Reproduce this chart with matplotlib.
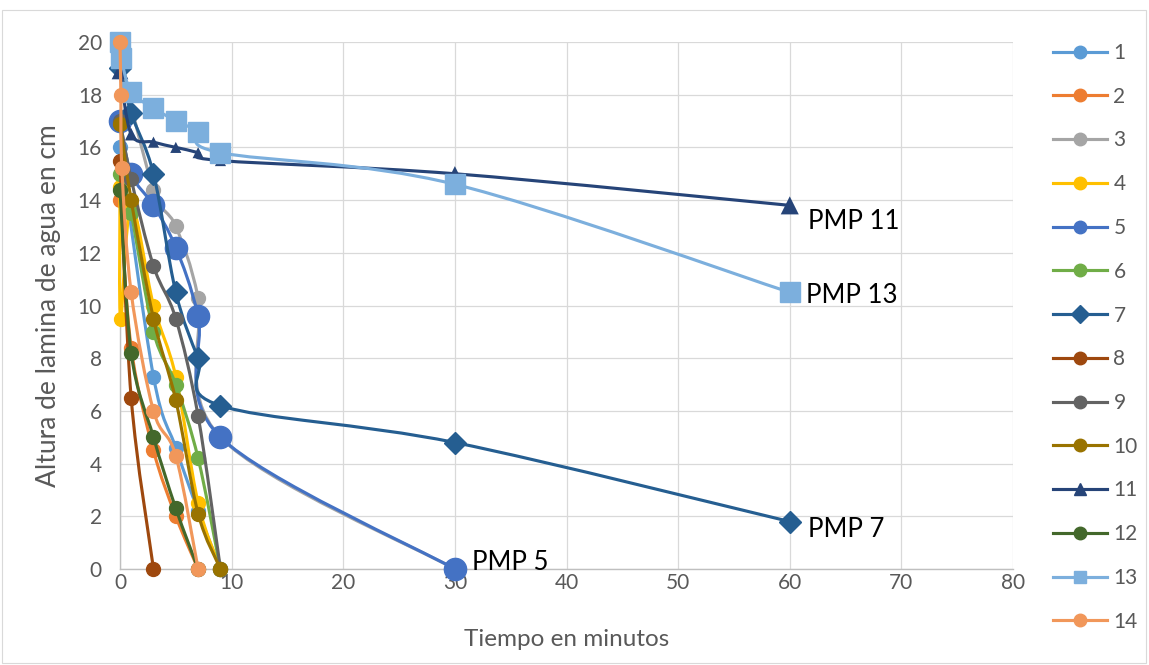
import numpy as np
import matplotlib
matplotlib.use("Agg")
import matplotlib.pyplot as plt
from matplotlib.path import Path
from matplotlib.patches import PathPatch, Rectangle
from matplotlib.lines import Line2D

plt.rcParams['font.family'] = ['Lato', 'DejaVu Sans']

# ---- data (time in minutes, water height in cm) ----
series_names = ["1", "2", "3", "4", "5", "6", "7", "8", "9", "10", "11", "12", "13", "14"]

x1 = [0, 3, 5, 7, 9];                 y1 = [16.0, 7.3, 4.6, 2.2, 0]
x2 = [0, 1, 3, 5, 7];                 y2 = [14.0, 8.4, 4.5, 2.0, 0]
x3 = [0, 3, 5, 7, 9, 30];             y3 = [19.3, 14.4, 13.0, 10.3, 5.0, 0]
x4 = [0, 0.05, 1, 3, 5, 7, 9];        y4 = [14.5, 9.5, 13.8, 10.0, 7.3, 2.5, 0]
x5 = [0, 1, 3, 5, 7, 9, 30];          y5 = [17.0, 15.0, 13.8, 12.2, 9.6, 5.0, 0]
x6 = [0, 1, 3, 5, 7, 9];              y6 = [15.0, 13.5, 9.0, 7.0, 4.2, 0]
x7 = [0, 1, 3, 5, 7, 9, 30, 60];      y7 = [19.0, 17.3, 15.0, 10.5, 8.0, 6.2, 4.8, 1.8]
x8 = [0, 1, 3];                       y8 = [15.5, 6.5, 0]
x9 = [0, 1, 3, 5, 7, 9];              y9 = [17.0, 14.8, 11.5, 9.5, 5.8, 0]
x10 = [0, 1, 3, 5, 7, 9];             y10 = [16.9, 14.0, 9.5, 6.4, 2.1, 0]
x11 = [0, 1, 3, 5, 7, 9, 30, 60];     y11 = [18.9, 16.5, 16.2, 16.0, 15.8, 15.5, 15.0, 13.8]
x12 = [0, 1, 3, 5, 7];                y12 = [14.4, 8.2, 5.0, 2.3, 0]
x13 = [0, 0.1, 1, 3, 5, 7, 9, 30, 60]; y13 = [20.0, 19.4, 18.1, 17.5, 17.0, 16.6, 15.8, 14.6, 10.5]
x14 = [0, 0.08, 0.17, 1, 3, 5, 7];    y14 = [20.0, 18.0, 15.2, 10.5, 6.0, 4.3, 0]

xs = [x1, x2, x3, x4, x5, x6, x7, x8, x9, x10, x11, x12, x13, x14]
ys = [y1, y2, y3, y4, y5, y6, y7, y8, y9, y10, y11, y12, y13, y14]

# point labels: (series index, point index, text)
pmp_labels = [(4, 6, "PMP 5"), (6, 7, "PMP 7"), (10, 7, "PMP 11"), (12, 8, "PMP 13")]

x_ticks = [0, 10, 20, 30, 40, 50, 60, 70, 80]
y_ticks = [0, 2, 4, 6, 8, 10, 12, 14, 16, 18, 20]

# ---- styles ----
colors = ["#5B9BD5", "#ED7D31", "#A5A5A5", "#FFC000", "#4472C4", "#70AD47",
          "#255E91", "#9E480E", "#636363", "#997300", "#264478", "#43682B",
          "#7CAFDD", "#F1975A"]
markers = ["o", "o", "o", "o", "o", "o", "D", "o", "o", "o", "^", "o", "s", "o"]
msizes = [10, 10, 10, 10, 16, 10, 11, 10, 10, 10, 10, 10, 15, 10]
point_ms = {10: [12, 9, 8, 8, 8, 8, 11, 13]}
label_offsets = {"PMP 5": (17, 7), "PMP 7": (18, -8), "PMP 11": (18, -16), "PMP 13": (16, -3)}
txt_color = "#595959"


def smooth_path(x, y):
    pts = np.column_stack([x, y]).astype(float)
    n = len(pts)
    verts = [pts[0]]
    codes = [Path.MOVETO]
    for i in range(n - 1):
        p0 = pts[i - 1] if i > 0 else pts[i]
        p1 = pts[i]
        p2 = pts[i + 1]
        p3 = pts[i + 2] if i + 2 < n else pts[i + 1]
        c1 = p1 + (p2 - p0) / 6.0
        c2 = p2 - (p3 - p1) / 6.0
        verts += [c1, c2, p2]
        codes += [Path.CURVE4] * 3
    return Path(verts, codes)


fig = plt.figure(figsize=(11.49, 6.65), dpi=100)
ax = fig.add_axes([120 / 1149, 1 - 569 / 665, (1013 - 120) / 1149, (569 - 42) / 665])

# outer chart border
fig.patches.append(Rectangle((2 / 1149, 2 / 665), 1144 / 1149, 653 / 665,
                             transform=fig.transFigure, fill=False,
                             edgecolor="#D9D9D9", lw=0.8))

for i in range(14):
    z = 3 + i * 0.1
    patch = PathPatch(smooth_path(xs[i], ys[i]), facecolor="none", edgecolor=colors[i],
                      lw=2.25, capstyle="round", joinstyle="round", zorder=z, clip_on=False)
    ax.add_patch(patch)
    if i in point_ms:
        ax.scatter(xs[i], ys[i], s=np.array(point_ms[i]) ** 2, marker=markers[i],
                   color=colors[i], zorder=z + 0.05, clip_on=False, linewidths=0)
    else:
        ax.plot(xs[i], ys[i], linestyle="none", marker=markers[i], ms=msizes[i],
                color=colors[i], mec=colors[i], zorder=z + 0.05, clip_on=False)

for si, pi, text in pmp_labels:
    dx, dy = label_offsets[text]
    ax.annotate(text, (xs[si][pi], ys[si][pi]), xytext=(dx, dy), textcoords="offset pixels",
                ha="left", va="center", fontsize=18.5, color="black", zorder=10)

ax.set_xlim(0, 80)
ax.set_ylim(0, 20)
ax.set_xticks(x_ticks)
ax.set_yticks(y_ticks)
ax.grid(True, color="#D9D9D9", lw=0.9)
ax.set_axisbelow(True)
for s in ["top", "right"]:
    ax.spines[s].set_visible(False)
for s in ["left", "bottom"]:
    ax.spines[s].set_color("#BFBFBF")
    ax.spines[s].set_linewidth(1.0)
ax.tick_params(length=0, labelsize=15, colors=txt_color)
ax.tick_params(axis="x", pad=3)
ax.tick_params(axis="y", pad=13)
ax.set_xlabel("Tiempo en minutos", fontsize=17.5, color=txt_color, labelpad=26)
ax.set_ylabel("Altura de lamina de agua en cm", fontsize=19, color=txt_color, labelpad=12)

handles = [Line2D([0], [0], color=colors[i], lw=2.25, marker=markers[i], ms=9,
                  mec=colors[i]) for i in range(14)]
fig.legend(handles, series_names, loc="upper left", bbox_to_anchor=(1053 / 1149, 1 - 43 / 665),
           frameon=False, fontsize=15, labelcolor=txt_color, handlelength=2.6,
           handletextpad=0.3, labelspacing=1.14, borderpad=0, borderaxespad=0)

fig.savefig("out.png", dpi=100)
